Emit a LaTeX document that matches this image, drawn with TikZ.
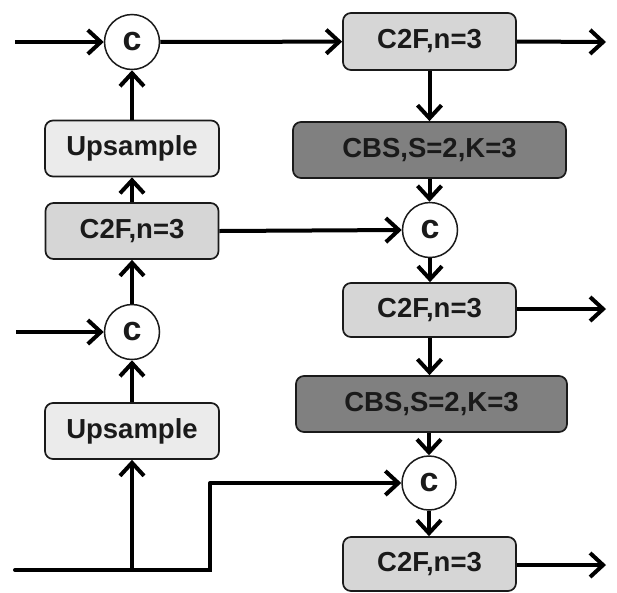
\documentclass[tikz,border=0pt]{standalone}
\usepackage{fontspec}
\setmainfont{Liberation Sans}
\usetikzlibrary{arrows.meta}
\definecolor{upfill}{HTML}{EBEBEB}
\definecolor{cffill}{HTML}{D6D6D6}
\definecolor{cbsfill}{HTML}{808080}
\definecolor{edge}{HTML}{1A1A1A}
\begin{document}
\begin{tikzpicture}[x=1pt,y=-1pt,
  every node/.style={font=\fontsize{27.5}{32}\selectfont\bfseries, text=edge, inner sep=0pt},
  blockbox/.style={draw=edge, line width=1.7pt, rounded corners=8pt},
  upbox/.style={blockbox, fill=upfill, minimum width=174pt, minimum height=56pt},
  cfbox/.style={blockbox, fill=cffill, minimum width=173pt, minimum height=56pt},
  cbsbox/.style={blockbox, fill=cbsfill, minimum width=272pt, minimum height=56pt},
  catnode/.style={circle, draw=edge, line width=1.5pt, fill=white, minimum size=55pt,
    font=\fontsize{34}{36}\selectfont\bfseries},
  link/.style={line width=4pt, draw=black},
  arr/.style={link, -{Straight Barb[length=13pt,width=24pt,line width=4pt]}}
]
\useasboundingbox (0,0) rectangle (617,592);
% left column
\node[catnode] (c1) at (132,42) {c};
\node[upbox] (up1) at (132,148.5) {Upsample};
\node[cfbox] (cfL) at (132,231) {C2F,n=3};
\node[catnode] (c2) at (132,332) {c};
\node[upbox] (up2) at (132,431) {Upsample};
% right column
\node[cfbox, minimum height=57pt] (cfT) at (429.5,41.5) {C2F,n=3};
\node[cbsbox, minimum width=273pt] (cbs1) at (429.5,150) {CBS,S=2,K=3};
\node[catnode] (c3) at (430,230) {c};
\node[cfbox, minimum height=54pt] (cfM) at (429.5,310) {C2F,n=3};
\node[cbsbox, minimum width=271pt] (cbs2) at (431.5,404) {CBS,S=2,K=3};
\node[catnode, minimum size=54pt] (c5) at (429,483) {c};
\node[cfbox, minimum height=54pt] (cfB) at (429.5,564) {C2F,n=3};
% free ends
\coordinate (in1) at (15,42);
\coordinate (in2) at (16,332);
\coordinate (in3) at (15,570);
\coordinate (j1) at (132,570);
\coordinate (k1) at (210,570);
\coordinate (k2) at (210,483);
\coordinate (o1) at (606,42);
\coordinate (o2) at (606,309);
\coordinate (o3) at (606,565);
% connectors
\draw[arr] (in1) -- (c1);
\draw[arr] (up1) -- (c1);
\draw[arr] (cfL) -- (up1);
\draw[arr] (c2) -- (cfL);
\draw[arr] (in2) -- (c2);
\draw[arr] (up2) -- (c2);
\draw[link, line cap=round] (in3) -- (k1) -- (k2);
\draw[arr] (j1) -- (up2);
\draw[arr] (k2) -- (c5);
\draw[arr] (c1) -- (cfT);
\draw[arr] (cfT.east) -- (o1);
\draw[arr] (cfT) -- (cbs1);
\draw[arr] (cbs1) -- (cbs1.south |- c3.north);
\draw[arr] (cfL.east) -- (c3.west);
\draw[arr] (c3) -- (c3 |- cfM.north);
\draw[arr] (cfM.east |- o2) -- (o2);
\draw[arr] (cfM) -- (cfM |- cbs2.north);
\draw[arr] (cbs2.south -| c5) -- (c5);
\draw[arr] (c5) -- (c5 |- cfB.north);
\draw[arr] (cfB.east |- o3) -- (o3);
\end{tikzpicture}
\end{document}
